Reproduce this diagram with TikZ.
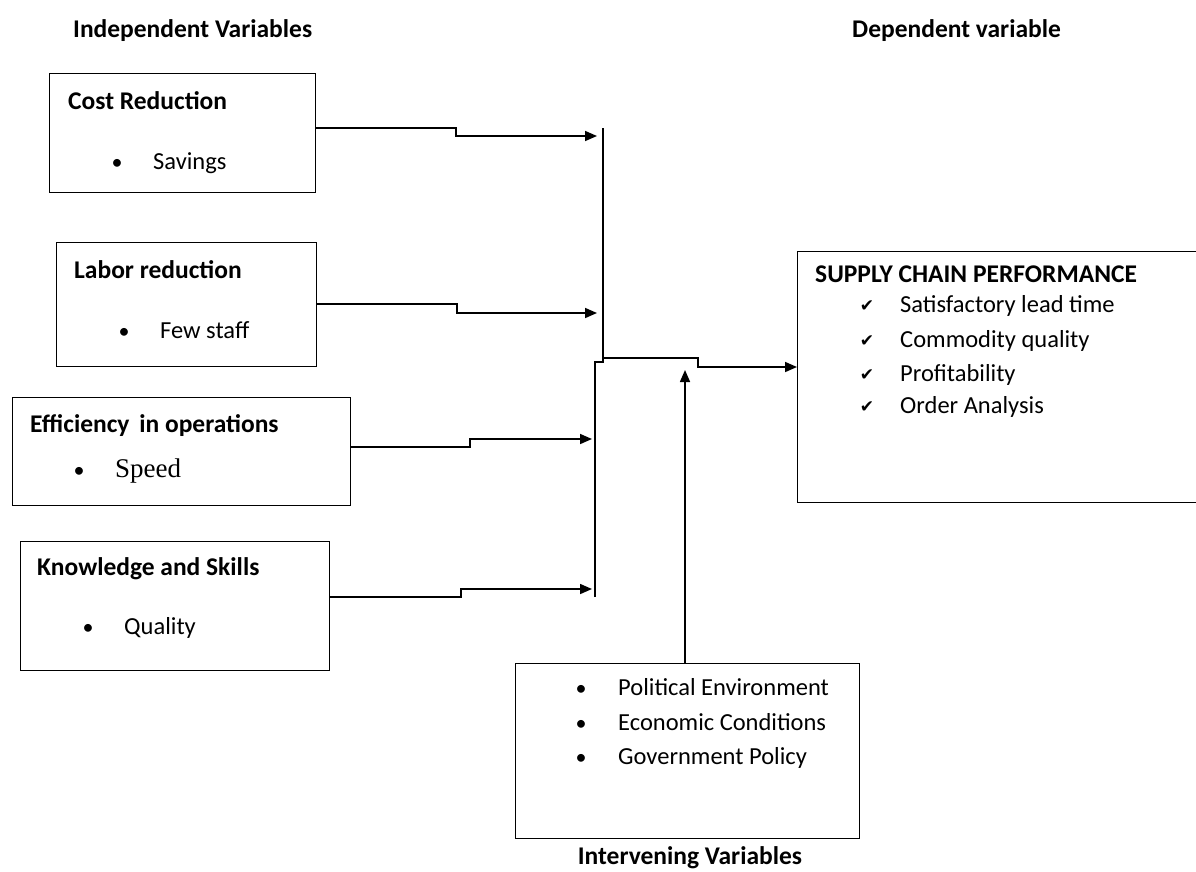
\documentclass[tikz,border=0pt]{standalone}
\usepackage{fontspec}
\setmainfont{Carlito}
\newfontfamily\serifspeed{Liberation Serif}
\newfontfamily\symfont{DejaVu Sans}
\usetikzlibrary{arrows.meta}
\begin{document}
\begin{tikzpicture}[x=1pt,y=-1pt,
  box/.style={draw, line width=1.4pt, rectangle, anchor=north west, inner sep=0pt},
  ttl/.style={font=\bfseries\fontsize{25.5}{29}\selectfont, anchor=base west, inner sep=0pt},
  txt/.style={font=\fontsize{24.5}{28}\selectfont, anchor=base west, inner sep=0pt},
  blt/.style={font=\fontsize{22}{26}\selectfont, anchor=base, inner sep=0pt},
  chk/.style={font=\symfont\fontsize{17}{20}\selectfont, anchor=base, inner sep=0pt},
  conn/.style={line width=1.6pt},
  arr/.style={conn, -{Triangle[length=12pt,width=10pt]}}]
\clip (0,0) rectangle (1196,871);
\fill[white] (0,0) rectangle (1196,871);

% headings
\node[ttl] (hind) at (73,37) {Independent Variables};
\node[ttl] (hdep) at (852,37) {Dependent variable};
\node[ttl, anchor=base] (hint) at (690,864) {Intervening Variables};

% boxes
\node[box, minimum width=266pt, minimum height=119pt] (cost) at (49,73) {};
\node[box, minimum width=260pt, minimum height=124pt] (labor) at (56,242) {};
\node[box, minimum width=338pt, minimum height=108pt] (eff) at (12,397) {};
\node[box, minimum width=309pt, minimum height=129pt] (know) at (20,541) {};
\node[box, minimum width=344pt, minimum height=175pt] (inter) at (515,663) {};
\node[box, minimum width=410pt, minimum height=251pt] (sc) at (797,251) {};

% box texts
\node[ttl] (costt) at (68,109) {Cost Reduction};
\node[blt] (costb) at (117,169) {•};
\node[txt] (costi) at (153,169) {Savings};

\node[ttl] (labort) at (74,278) {Labor reduction};
\node[blt] (laborb) at (124,338) {•};
\node[txt] (labori) at (160,338) {Few staff};

\node[ttl] (efft) at (30,432) {Efficiency\hspace{4pt} in operations};
\node[blt] (effb) at (79,477) {•};
\node[txt, font=\serifspeed\fontsize{27}{31}\selectfont] (effi) at (115,477) {Speed};

\node[ttl] (knowt) at (37,575) {Knowledge and Skills};
\node[blt] (knowb) at (88,634) {•};
\node[txt] (knowi) at (124,634) {Quality};

\node[blt] (ib1) at (581,695) {•};
\node[txt] (it1) at (618,695) {Political Environment};
\node[blt] (ib2) at (581,730) {•};
\node[txt] (it2) at (618,730) {Economic Conditions};
\node[blt] (ib3) at (581,764) {•};
\node[txt] (it3) at (618,764) {Government Policy};

\node[ttl] (sct) at (815,282) {SUPPLY CHAIN PERFORMANCE};
\node[chk] (sc1) at (867,311) {✔};
\node[txt] (st1) at (900,312) {Satisfactory lead time};
\node[chk] (sc2) at (867,346) {✔};
\node[txt] (st2) at (900,347) {Commodity quality};
\node[chk] (sc3) at (867,380) {✔};
\node[txt] (st3) at (900,381) {Profitability};
\node[chk] (sc4) at (867,412) {✔};
\node[txt] (st4) at (900,413) {Order Analysis};

% junction coordinates
\coordinate (t1) at (597,136);
\coordinate (t2) at (597,313);
\coordinate (t3) at (592,439);
\coordinate (t4) at (592,589);
\coordinate (ubtop) at (603,128);
\coordinate (ubbot) at (603,358);
\coordinate (lbtop) at (595,362);
\coordinate (lbbot) at (595,597);
\coordinate (itip) at (685,370);

% connectors
\draw[arr] (cost.east |- 0,128) -- (456,128) -- (456,136) -- (t1);
\draw[arr] (labor.east |- 0,304) -- (457,304) -- (457,313) -- (t2);
\draw[arr] (eff.east |- 0,447) -- (470,447) -- (470,439) -- (t3);
\draw[arr] (know.east |- 0,597) -- (461,597) -- (461,589) -- (t4);

\draw[conn] (ubtop) -- (ubbot);
\draw[conn] (lbbot) -- (lbtop) -- (603,362) -- (ubbot);
\draw[arr] (ubbot) -- (698,358) -- (698,367) -- (sc.west |- 0,367);
\draw[arr] (inter.north -| itip) -- (itip);
\end{tikzpicture}
\end{document}
